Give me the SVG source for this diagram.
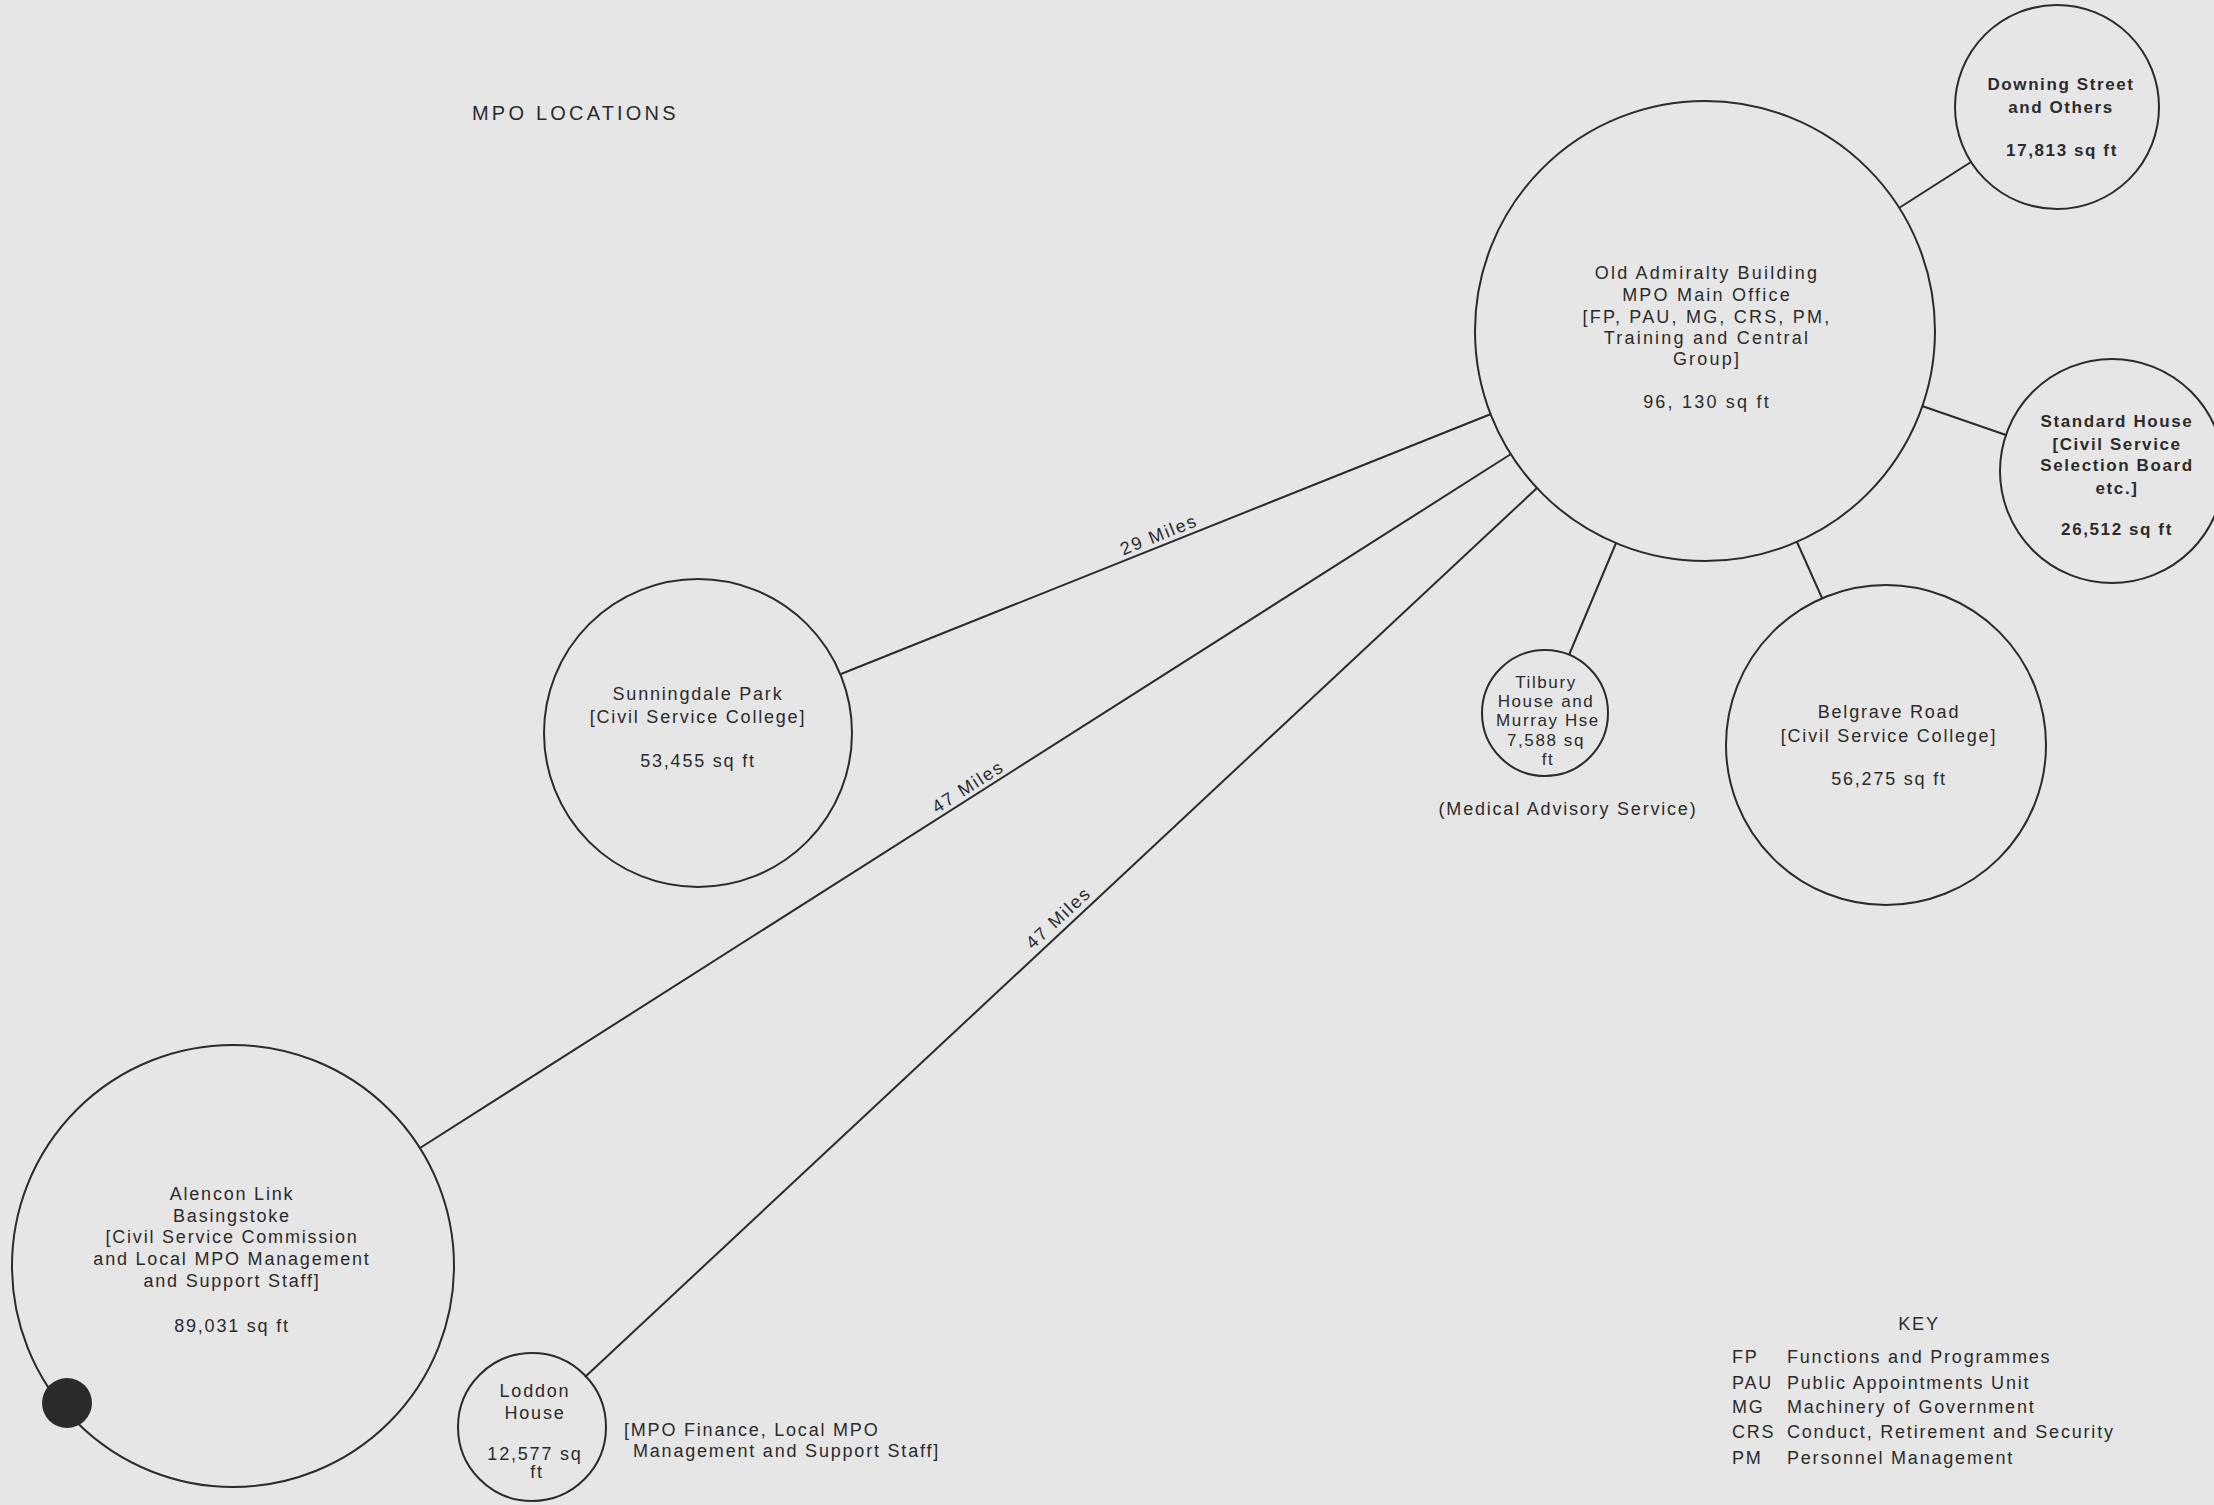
<svg xmlns="http://www.w3.org/2000/svg" width="2214" height="1505" viewBox="0 0 2214 1505">
<style>
.bg{fill:#e6e6e6}
.n{fill:none;stroke:#2b2b2b;stroke-width:2}
.c{stroke:#2b2b2b;stroke-width:2;fill:none}
.t{font-family:"Liberation Sans",Arial,sans-serif;font-size:18px;letter-spacing:1.8px;fill:#2b2b2b;text-anchor:middle}
.w{letter-spacing:2.2px}
.b{font-weight:bold;font-size:17px;letter-spacing:1.6px}
.s{font-size:17px;letter-spacing:1.6px}
.m{font-size:18px;letter-spacing:1.8px}
.l{text-anchor:start}
</style>
<rect class="bg" x="0" y="0" width="2214" height="1505"/>
<text class="t l" x="472" y="120" style="font-size:20px;letter-spacing:3.2px">MPO LOCATIONS</text>

<g id="connectors">
<line class="c" x1="1899" y1="208" x2="1971" y2="162"/>
<line class="c" x1="1922" y1="406" x2="2006" y2="435"/>
<line class="c" x1="1797" y1="542" x2="1822" y2="598"/>
<line class="c" x1="1616" y1="543" x2="1569" y2="655"/>
<line class="c" x1="1491" y1="414" x2="841" y2="674"/>
<line class="c" x1="1511" y1="454" x2="420" y2="1148"/>
<line class="c" x1="1537" y1="488" x2="585" y2="1377"/>
<text class="t m" transform="translate(1163,545) rotate(-21.76)" x="0" y="-5">29 Miles</text>
<text class="t m" transform="translate(974,796) rotate(-32.46)" x="0" y="-5">47 Miles</text>
<text class="t m" transform="translate(1066,926) rotate(-43)" x="0" y="-5">47 Miles</text>
</g>

<g id="old-admiralty">
<circle class="n" cx="1705" cy="331" r="230"/>
<text class="t w" x="1707" y="279">Old Admiralty Building</text>
<text class="t w" x="1707" y="301">MPO Main Office</text>
<text class="t w" x="1707" y="323">[FP, PAU, MG, CRS, PM,</text>
<text class="t w" x="1707" y="344">Training and Central</text>
<text class="t w" x="1707" y="365">Group]</text>
<text class="t w" x="1707" y="408">96, 130 sq ft</text>
</g>

<g id="downing-street">
<circle class="n" cx="2057" cy="107" r="102"/>
<text class="t b" x="2061" y="90">Downing Street</text>
<text class="t b" x="2061" y="113">and Others</text>
<text class="t b" x="2062" y="156">17,813 sq ft</text>
</g>

<g id="standard-house">
<circle class="n" cx="2112" cy="471" r="112"/>
<text class="t b" x="2117" y="427">Standard House</text>
<text class="t b" x="2117" y="450">[Civil Service</text>
<text class="t b" x="2117" y="471">Selection Board</text>
<text class="t b" x="2117" y="494">etc.]</text>
<text class="t b" x="2117" y="535">26,512 sq ft</text>
</g>

<g id="belgrave-road">
<circle class="n" cx="1886" cy="745" r="160"/>
<text class="t" x="1889" y="718">Belgrave Road</text>
<text class="t" x="1889" y="742">[Civil Service College]</text>
<text class="t" x="1889" y="785">56,275 sq ft</text>
</g>

<g id="tilbury-house">
<circle class="n" cx="1545" cy="713" r="63"/>
<text class="t s" x="1546" y="688">Tilbury</text>
<text class="t s" x="1546" y="707">House and</text>
<text class="t s" x="1548" y="726">Murray Hse</text>
<text class="t s" x="1546" y="746">7,588 sq</text>
<text class="t s" x="1548" y="765">ft</text>
<text class="t" x="1568" y="815">(Medical Advisory Service)</text>
</g>

<g id="sunningdale-park">
<circle class="n" cx="698" cy="733" r="154"/>
<text class="t" x="698" y="700">Sunningdale Park</text>
<text class="t" x="698" y="723">[Civil Service College]</text>
<text class="t" x="698" y="767">53,455 sq ft</text>
</g>

<g id="alencon-link">
<circle class="n" cx="233" cy="1266" r="221"/>
<circle cx="67" cy="1403" r="25" fill="#2b2b2b"/>
<text class="t" x="232" y="1200">Alencon Link</text>
<text class="t" x="232" y="1222">Basingstoke</text>
<text class="t" x="232" y="1243">[Civil Service Commission</text>
<text class="t" x="232" y="1265">and Local MPO Management</text>
<text class="t" x="232" y="1287">and Support Staff]</text>
<text class="t" x="232" y="1332">89,031 sq ft</text>
</g>

<g id="loddon-house">
<circle class="n" cx="532" cy="1427" r="74"/>
<text class="t" x="535" y="1397">Loddon</text>
<text class="t" x="535" y="1419">House</text>
<text class="t" x="535" y="1460">12,577 sq</text>
<text class="t" x="537" y="1478">ft</text>
<text class="t l" x="624" y="1436">[MPO Finance, Local MPO</text>
<text class="t l" x="633" y="1457">Management and Support Staff]</text>
</g>

<g id="key">
<text class="t" x="1919" y="1330">KEY</text>
<text class="t l" x="1732" y="1363">FP</text>
<text class="t l" x="1787" y="1363">Functions and Programmes</text>
<text class="t l" x="1732" y="1389">PAU</text>
<text class="t l" x="1787" y="1389">Public Appointments Unit</text>
<text class="t l" x="1732" y="1413">MG</text>
<text class="t l" x="1787" y="1413">Machinery of Government</text>
<text class="t l" x="1732" y="1438">CRS</text>
<text class="t l" x="1787" y="1438">Conduct, Retirement and Security</text>
<text class="t l" x="1732" y="1464">PM</text>
<text class="t l" x="1787" y="1464">Personnel Management</text>
</g>
</svg>
